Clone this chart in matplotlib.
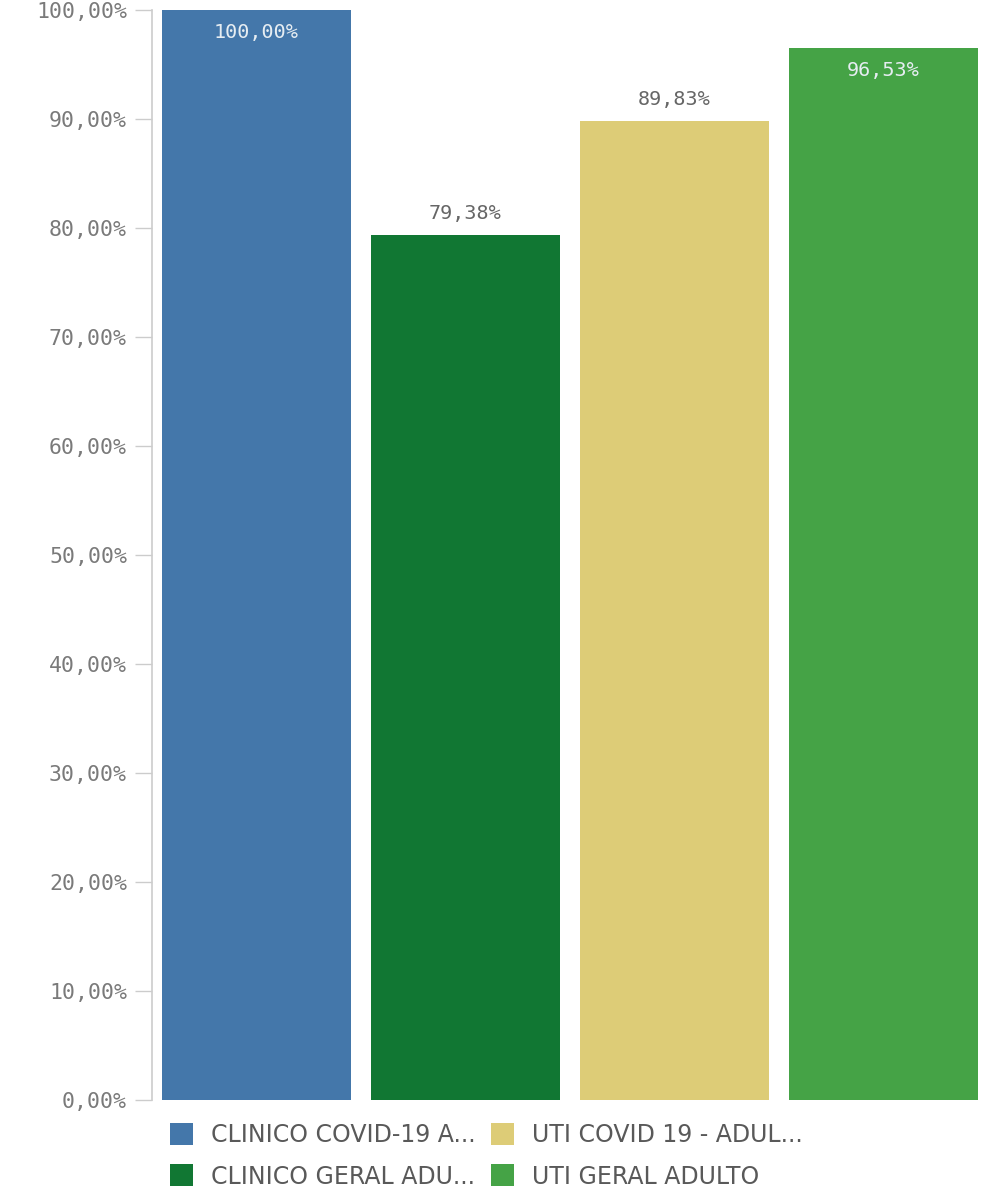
import matplotlib
matplotlib.use("Agg")
import matplotlib.pyplot as plt
from matplotlib import font_manager as fm
from matplotlib.patches import Patch

categories = ["CLINICO COVID-19 A...", "CLINICO GERAL ADU...", "UTI COVID 19 - ADUL...", "UTI GERAL ADULTO"]
values = [100.00, 79.38, 89.83, 96.53]
colors = ["#4477aa", "#117733", "#ddcc77", "#45a346"]
yticks = [0, 10, 20, 30, 40, 50, 60, 70, 80, 90, 100]

names = {f.name for f in fm.fontManager.ttflist}
legend_font = "Liberation Sans Narrow" if "Liberation Sans Narrow" in names else "DejaVu Sans"

fig = plt.figure(figsize=(9.87, 11.9), dpi=100)
ax = fig.add_axes([152/987, 90/1190, 836/987, 1090/1190])

x = list(range(len(values)))
ax.bar(x, values, width=0.9, color=colors)
ax.set_xlim(-0.5, 3.5)
ax.set_ylim(0, 100)
ax.set_yticks(yticks)
ax.set_yticklabels([f"{v:.2f}%".replace(".", ",") for v in yticks],
                   fontfamily="DejaVu Sans Mono", fontsize=15.5, color="#7a7a7a")
ax.tick_params(axis="y", length=12.2, width=1, color="#cccccc", pad=5.8)
ax.set_xticks([])
for s in ["top", "right", "bottom"]:
    ax.spines[s].set_visible(False)
ax.spines["left"].set_color("#cccccc")
ax.spines["left"].set_linewidth(1.2)

for xi, v in zip(x, values):
    label = f"{v:.2f}%".replace(".", ",")
    if v > 95:
        ax.annotate(label, (xi, v), xytext=(0, -16), textcoords="offset points",
                    ha="center", va="center", fontfamily="DejaVu Sans Mono",
                    fontsize=14.5, color="#e6edf2")
    else:
        ax.annotate(label, (xi, v), xytext=(0, 15.5), textcoords="offset points",
                    ha="center", va="center", fontfamily="DejaVu Sans Mono",
                    fontsize=14.5, color="#666666")

handles = [Patch(facecolor=c, label=l) for c, l in zip(colors, categories)]
leg = fig.legend(handles=handles, ncol=2, loc="upper left",
                 bbox_to_anchor=(149/987, 1 - 1102/1190),
                 frameon=False, prop={"family": legend_font, "size": 17},
                 handlelength=0.95, handleheight=1.05, handletextpad=0.76,
                 columnspacing=0.68, labelspacing=0.73, labelcolor="#595959")

fig.savefig("out.png", dpi=100)
